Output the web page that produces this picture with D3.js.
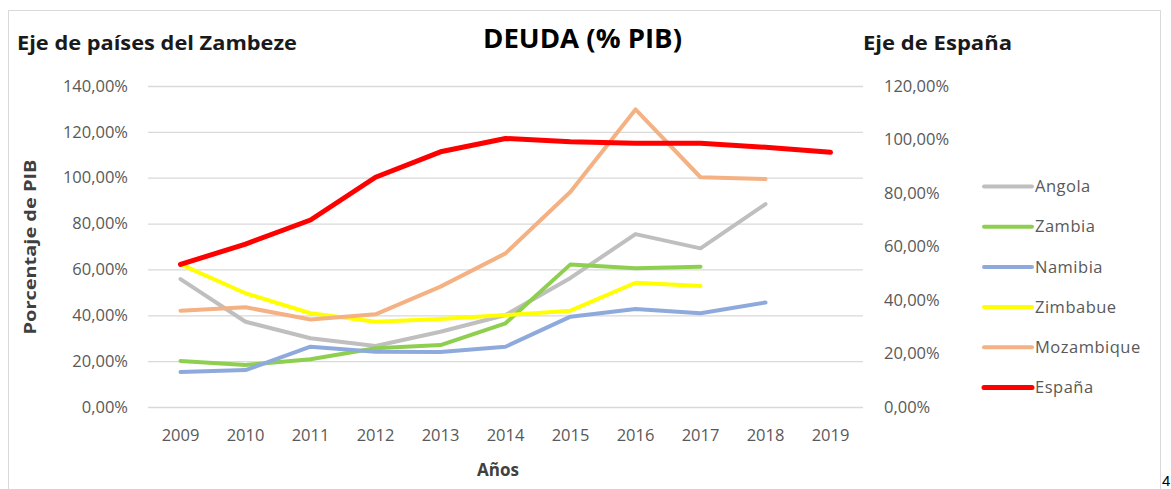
<!DOCTYPE html>
<html>
<head>
<meta charset="utf-8">
<script src="https://cdn.jsdelivr.net/npm/d3@7"></script>
<style>
  body { margin: 0; background: #fff; }
  text { font-family: "Open Sans", "DejaVu Sans", sans-serif; }
</style>
</head>
<body>
<svg width="1171" height="489"></svg>
<script>
// values (% of GDP)
var years = ["2009", "2010", "2011", "2012", "2013", "2014", "2015", "2016", "2017", "2018", "2019"];
var angola = [55.8, 37.2, 30.0, 26.6, 32.8, 40.1, 56.3, 75.4, 69.2, 88.5, null];
var zambia = [20.1, 18.3, 20.8, 25.6, 27.0, 36.5, 62.2, 60.5, 61.2, null, null];
var namibia = [15.3, 16.1, 26.3, 24.1, 24.0, 26.3, 39.4, 42.7, 40.9, 45.6, null];
var zimbabue = [62.2, 49.6, 40.9, 37.2, 38.4, 40.1, 42.0, 54.2, 52.8, null, null];
var mozambique = [42.0, 43.5, 38.2, 40.4, 52.5, 67.0, 93.9, 129.8, 100.2, 99.4, null];
var espana = [53.3, 60.9, 69.9, 85.9, 95.4, 100.4, 99.2, 98.6, 98.6, 97.1, 95.2];
var leftTicks = [0, 20, 40, 60, 80, 100, 120, 140];
var rightTicks = [0, 20, 40, 60, 80, 100, 120];

var series = [
    { name: "Angola", values: angola, color: "#bfbfbf", axis: "left" },
    { name: "Zambia", values: zambia, color: "#8fcf4f", axis: "left" },
    { name: "Namibia", values: namibia, color: "#8eaadc", axis: "left" },
    { name: "Zimbabue", values: zimbabue, color: "#ffff00", axis: "left" },
    { name: "Mozambique", values: mozambique, color: "#f4b183", axis: "left" },
    { name: "España", values: espana, color: "#ff0000", axis: "right" }
];

var svg = d3.select("svg"),
    plotLeft = 148, plotRight = 863, plotTop = 86, plotBottom = 407;

svg.append("rect")
    .attr("x", 8.5).attr("y", 10.5)
    .attr("width", 1152).attr("height", 490)
    .attr("fill", "#fff")
    .attr("stroke", "#d9d9d9");

var x = d3.scaleBand().domain(years).range([plotLeft, plotRight]);
var yLeft = d3.scaleLinear().domain([0, 140]).range([plotBottom, plotTop]);
var yRight = d3.scaleLinear().domain([0, 120]).range([plotBottom, plotTop]);

function pct(v) { return d3.format(".2f")(v).replace(".", ",") + "%"; }

// gridlines
svg.append("g")
    .attr("transform", "translate(" + plotLeft + ",0)")
    .call(d3.axisLeft(yLeft).tickValues(leftTicks).tickSize(-(plotRight - plotLeft)).tickFormat(""))
    .call(function(g) { g.select(".domain").remove(); })
    .selectAll("line")
    .attr("stroke", "#d9d9d9")
    .attr("stroke-width", 1.3);

var axisLeft = svg.append("g")
    .attr("transform", "translate(" + plotLeft + ",0)")
    .call(d3.axisLeft(yLeft).tickValues(leftTicks).tickSize(0).tickPadding(20).tickFormat(pct));

var axisRight = svg.append("g")
    .attr("transform", "translate(" + plotRight + ",0)")
    .call(d3.axisRight(yRight).tickValues(rightTicks).tickSize(0).tickPadding(21).tickFormat(pct));

var axisBottom = svg.append("g")
    .attr("transform", "translate(0," + plotBottom + ")")
    .call(d3.axisBottom(x).tickSize(0).tickPadding(22));

[axisLeft, axisRight, axisBottom].forEach(function(g) {
    g.select(".domain").remove();
    g.selectAll("text")
        .attr("fill", "#595959")
        .style("font-family", "'Open Sans', sans-serif")
        .style("font-size", "16.5px");
});

// lines
var lineGroup = svg.append("g");
series.forEach(function(s) {
    var yScale = s.axis == "right" ? yRight : yLeft;
    var line = d3.line()
        .defined(function(d) { return d != null; })
        .x(function(d, i) { return x(years[i]) + x.bandwidth() / 2; })
        .y(function(d) { return yScale(d); });
    lineGroup.append("path")
        .datum(s.values)
        .attr("d", line)
        .attr("fill", "none")
        .attr("stroke", s.color)
        .attr("stroke-width", s.axis == "right" ? 5 : 4)
        .attr("stroke-linejoin", "round")
        .attr("stroke-linecap", "round");
});

// legend
var legend = svg.append("g")
    .selectAll("g")
    .data(series)
    .enter().append("g")
    .attr("transform", function(d, i) { return "translate(983," + (186.5 + i * 40.2) + ")"; });
legend.append("line")
    .attr("x1", 1).attr("x2", 49)
    .attr("stroke", function(d) { return d.color; })
    .attr("stroke-width", function(d) { return d.axis == "right" ? 5 : 4; })
    .attr("stroke-linecap", "round");
legend.append("text")
    .attr("x", 52)
    .attr("dy", "0.35em")
    .attr("fill", "#595959")
    .style("font-size", "16.5px")
    .style("letter-spacing", "0.5px")
    .text(function(d) { return d.name; });

// titles
svg.append("text")
    .attr("x", 17).attr("y", 50)
    .attr("textLength", 280).attr("lengthAdjust", "spacingAndGlyphs")
    .style("font-size", "19px").style("font-weight", "bold")
    .attr("fill", "#1a1a1a")
    .text("Eje de países del Zambeze");

svg.append("text")
    .attr("x", 483).attr("y", 48)
    .attr("textLength", 199).attr("lengthAdjust", "spacingAndGlyphs")
    .style("font-size", "27px").style("font-weight", "bold")
    .attr("fill", "#000")
    .text("DEUDA (% PIB)");

svg.append("text")
    .attr("x", 863).attr("y", 50)
    .attr("textLength", 149).attr("lengthAdjust", "spacingAndGlyphs")
    .style("font-size", "19px").style("font-weight", "bold")
    .attr("fill", "#1a1a1a")
    .text("Eje de España");

svg.append("text")
    .attr("transform", "translate(36,247) rotate(-90)")
    .attr("text-anchor", "middle")
    .attr("textLength", 175).attr("lengthAdjust", "spacingAndGlyphs")
    .style("font-size", "16px").style("font-weight", "bold")
    .attr("fill", "#404040")
    .text("Porcentaje de PIB");

svg.append("text")
    .attr("x", 498).attr("y", 476)
    .attr("text-anchor", "middle")
    .style("font-size", "17px").style("font-weight", "bold")
    .attr("fill", "#404040")
    .text("Años");

svg.append("text")
    .attr("x", 1162).attr("y", 486)
    .style("font-family", "'Liberation Sans', Arial, sans-serif")
    .style("font-size", "15px")
    .attr("fill", "#000")
    .text("4");
</script>
</body>
</html>
